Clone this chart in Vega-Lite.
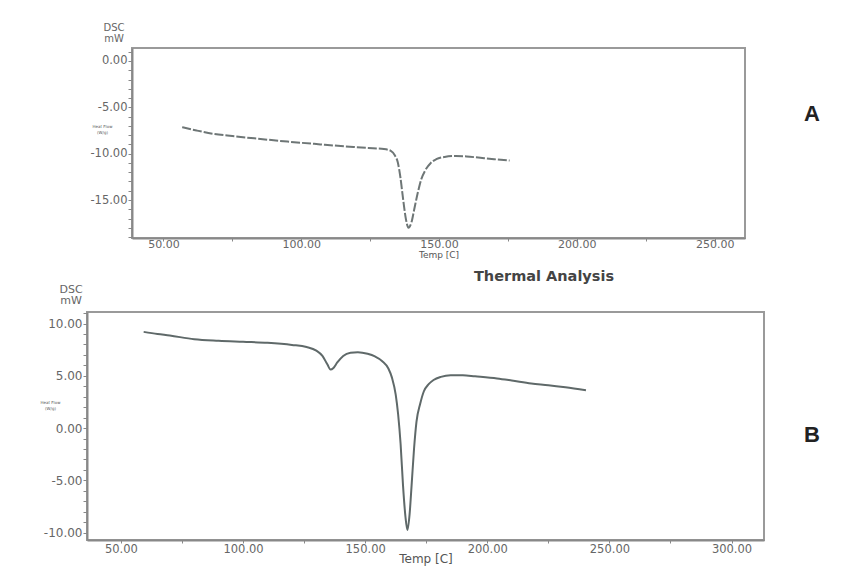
{
  "$schema": "https://vega.github.io/schema/vega-lite/v6.json",
  "background": "white",
  "padding": {"left": 34, "top": 22, "right": 0, "bottom": 0},
  "config": {
    "font": "DejaVu Sans",
    "view": {"stroke": "#9a9a9a", "strokeWidth": 2},
    "axis": {
      "labelFont": "DejaVu Sans",
      "labelColor": "#666",
      "tickColor": "#888",
      "domainColor": "#888",
      "domainWidth": 2,
      "grid": false,
      "titleFont": "DejaVu Sans",
      "titleColor": "#555",
      "titleFontWeight": "normal",
      "labelOverlap": false,
      "labelFlush": false
    }
  },
  "datasets": {
    "a": [
      {"temp": 56.8, "heatflow": -7.15}, {"temp": 62, "heatflow": -7.5}, {"temp": 68, "heatflow": -7.85},
      {"temp": 75, "heatflow": -8.1}, {"temp": 83, "heatflow": -8.35}, {"temp": 95, "heatflow": -8.7},
      {"temp": 107, "heatflow": -9.0}, {"temp": 119, "heatflow": -9.28}, {"temp": 126, "heatflow": -9.42},
      {"temp": 130, "heatflow": -9.5}, {"temp": 132.5, "heatflow": -9.7}, {"temp": 134, "heatflow": -10.2},
      {"temp": 135, "heatflow": -10.9}, {"temp": 136, "heatflow": -12.6}, {"temp": 137, "heatflow": -15.0},
      {"temp": 138, "heatflow": -17.1}, {"temp": 138.9, "heatflow": -18.0}, {"temp": 140, "heatflow": -17.4},
      {"temp": 141, "heatflow": -16.0}, {"temp": 142.3, "heatflow": -14.2}, {"temp": 143.5, "heatflow": -12.8},
      {"temp": 145, "heatflow": -11.8}, {"temp": 147, "heatflow": -11.0}, {"temp": 149, "heatflow": -10.6},
      {"temp": 152, "heatflow": -10.35}, {"temp": 156, "heatflow": -10.25}, {"temp": 160, "heatflow": -10.3},
      {"temp": 165, "heatflow": -10.45}, {"temp": 170, "heatflow": -10.6}, {"temp": 175.6, "heatflow": -10.75}
    ],
    "b": [
      {"temp": 59.3, "heatflow": 9.2}, {"temp": 65, "heatflow": 9.0}, {"temp": 70, "heatflow": 8.85},
      {"temp": 80, "heatflow": 8.5}, {"temp": 90, "heatflow": 8.35}, {"temp": 100, "heatflow": 8.25},
      {"temp": 110, "heatflow": 8.15}, {"temp": 120, "heatflow": 7.95}, {"temp": 126, "heatflow": 7.75},
      {"temp": 130, "heatflow": 7.4}, {"temp": 132.5, "heatflow": 6.9}, {"temp": 134.5, "heatflow": 6.1},
      {"temp": 135.8, "heatflow": 5.6}, {"temp": 137, "heatflow": 5.75}, {"temp": 138.5, "heatflow": 6.25},
      {"temp": 141, "heatflow": 6.9}, {"temp": 144, "heatflow": 7.2}, {"temp": 147, "heatflow": 7.25},
      {"temp": 151, "heatflow": 7.1}, {"temp": 154, "heatflow": 6.85}, {"temp": 157, "heatflow": 6.4},
      {"temp": 159.5, "heatflow": 5.7}, {"temp": 161, "heatflow": 4.8}, {"temp": 162.5, "heatflow": 3.2},
      {"temp": 163.5, "heatflow": 1.3}, {"temp": 164.5, "heatflow": -1.5}, {"temp": 165.5, "heatflow": -5.5},
      {"temp": 166.5, "heatflow": -8.5}, {"temp": 167.3, "heatflow": -9.75}, {"temp": 168.2, "heatflow": -8.2},
      {"temp": 169, "heatflow": -5.5}, {"temp": 170, "heatflow": -2.0}, {"temp": 171, "heatflow": 0.6},
      {"temp": 172.5, "heatflow": 2.3}, {"temp": 174, "heatflow": 3.5}, {"temp": 176, "heatflow": 4.2},
      {"temp": 178, "heatflow": 4.6}, {"temp": 181, "heatflow": 4.9}, {"temp": 185, "heatflow": 5.05},
      {"temp": 190, "heatflow": 5.05}, {"temp": 195, "heatflow": 4.95}, {"temp": 204, "heatflow": 4.75},
      {"temp": 210, "heatflow": 4.55}, {"temp": 218, "heatflow": 4.26}, {"temp": 225, "heatflow": 4.1},
      {"temp": 232, "heatflow": 3.9}, {"temp": 240.4, "heatflow": 3.62}
    ]
  },
  "spacing": 8,
  "columns": 1,
  "align": "none",
  "concat": [
    {
      "spacing": 0,
      "bounds": "flush",
      "hconcat": [
        {
          "width": 45,
          "height": 10,
          "view": {"stroke": null},
          "data": {"values": [{"label": ""}]},
          "mark": {"type": "text"},
          "encoding": {"text": {"field": "label", "type": "nominal"}}
        },
        {
          "width": 613,
          "height": 190,
          "data": {"name": "a"},
          "title": {"text": ["DSC", "mW"], "anchor": "start", "frame": "group", "align": "center", "dx": -18, "fontSize": 10, "fontWeight": "normal", "color": "#666", "offset": 2, "lineHeight": 10.5, "font": "DejaVu Sans"},
          "mark": {"type": "line", "stroke": "#6e7676", "strokeWidth": 2, "strokeDash": [9, 2], "interpolate": "monotone"},
          "encoding": {
            "x": {
              "field": "temp", "type": "quantitative",
              "scale": {"domain": [38.6, 261], "nice": false, "zero": false},
              "axis": {
                "values": [50, 75, 100, 125, 150, 175, 200, 225, 250],
                "labelExpr": "datum.value % 50 == 0 ? format(datum.value, '.2f') : ''",
                "title": "Temp  [C]", "titleFontSize": 9, "labelFontSize": 11,
                "tickSize": 3, "labelPadding": -3, "titlePadding": 1.5
              }
            },
            "y": {
              "field": "heatflow", "type": "quantitative",
              "scale": {"domain": [-19.1, 1.4], "nice": false, "zero": false},
              "axis": {
                "values": [-19, -18, -17, -16, -15, -14, -13, -12, -11, -10, -9, -8, -7, -6, -5, -4, -3, -2, -1, 0, 1],
                "labelExpr": "datum.value % 5 == 0 ? (datum.value < 0 ? '-' : '') + format(abs(datum.value), '.2f') : ''",
                "labelFontSize": 11.5, "tickSize": 4, "labelPadding": 1,
                "title": ["Heat Flow", "(W/g)"], "titleAngle": 0, "titleX": -30, "titleY": 78,
                "titleFontSize": 4, "titleAlign": "center", "titleBaseline": "middle"
              }
            }
          }
        },
        {
          "width": 134,
          "height": 132,
          "view": {"stroke": null},
          "data": {"values": [{"label": "A"}]},
          "mark": {"type": "text", "fontSize": 22, "fontWeight": "bold", "font": "Liberation Sans", "color": "#222"},
          "encoding": {"text": {"field": "label", "type": "nominal"}}
        }
      ]
    },
    {
      "spacing": 37,
      "title": {"text": "Thermal Analysis", "anchor": "middle", "dx": 116, "fontSize": 14.5, "font": "DejaVu Sans", "fontWeight": "bold", "color": "#444", "offset": -2},
      "hconcat": [
        {
          "width": 677,
          "height": 228,
          "data": {"name": "b"},
          "title": {"text": ["DSC", "mW"], "anchor": "start", "frame": "group", "align": "center", "dx": -16, "fontSize": 11, "fontWeight": "normal", "color": "#666", "offset": 1, "lineHeight": 11.5, "font": "DejaVu Sans"},
          "mark": {"type": "line", "stroke": "#5f6969", "strokeWidth": 2, "interpolate": "monotone"},
          "encoding": {
            "x": {
              "field": "temp", "type": "quantitative",
              "scale": {"domain": [36.1, 313.3], "nice": false, "zero": false},
              "axis": {
                "values": [50, 75, 100, 125, 150, 175, 200, 225, 250, 275, 300],
                "labelExpr": "datum.value % 50 == 0 ? format(datum.value, '.2f') : ''",
                "title": "Temp  [C]", "titleFontSize": 12, "labelFontSize": 11.5,
                "tickSize": 3, "labelPadding": 0, "titlePadding": -1
              }
            },
            "y": {
              "field": "heatflow", "type": "quantitative",
              "scale": {"domain": [-10.7, 11.1], "nice": false, "zero": false},
              "axis": {
                "values": [-10, -9, -8, -7, -6, -5, -4, -3, -2, -1, 0, 1, 2, 3, 4, 5, 6, 7, 8, 9, 10, 11],
                "labelExpr": "datum.value % 5 == 0 ? (datum.value < 0 ? '-' : '') + format(abs(datum.value), '.2f') : ''",
                "labelFontSize": 12, "tickSize": 4, "labelPadding": 1,
                "minExtent": 52, "maxExtent": 52,
                "title": ["Heat Flow", "(W/g)"], "titleAngle": 0, "titleX": -37, "titleY": 90,
                "titleFontSize": 4, "titleAlign": "center", "titleBaseline": "middle"
              }
            }
          }
        },
        {
          "width": 20,
          "height": 246,
          "view": {"stroke": null},
          "data": {"values": [{"label": "B"}]},
          "mark": {"type": "text", "fontSize": 22, "fontWeight": "bold", "font": "Liberation Sans", "color": "#222"},
          "encoding": {"text": {"field": "label", "type": "nominal"}}
        }
      ]
    }
  ]
}
